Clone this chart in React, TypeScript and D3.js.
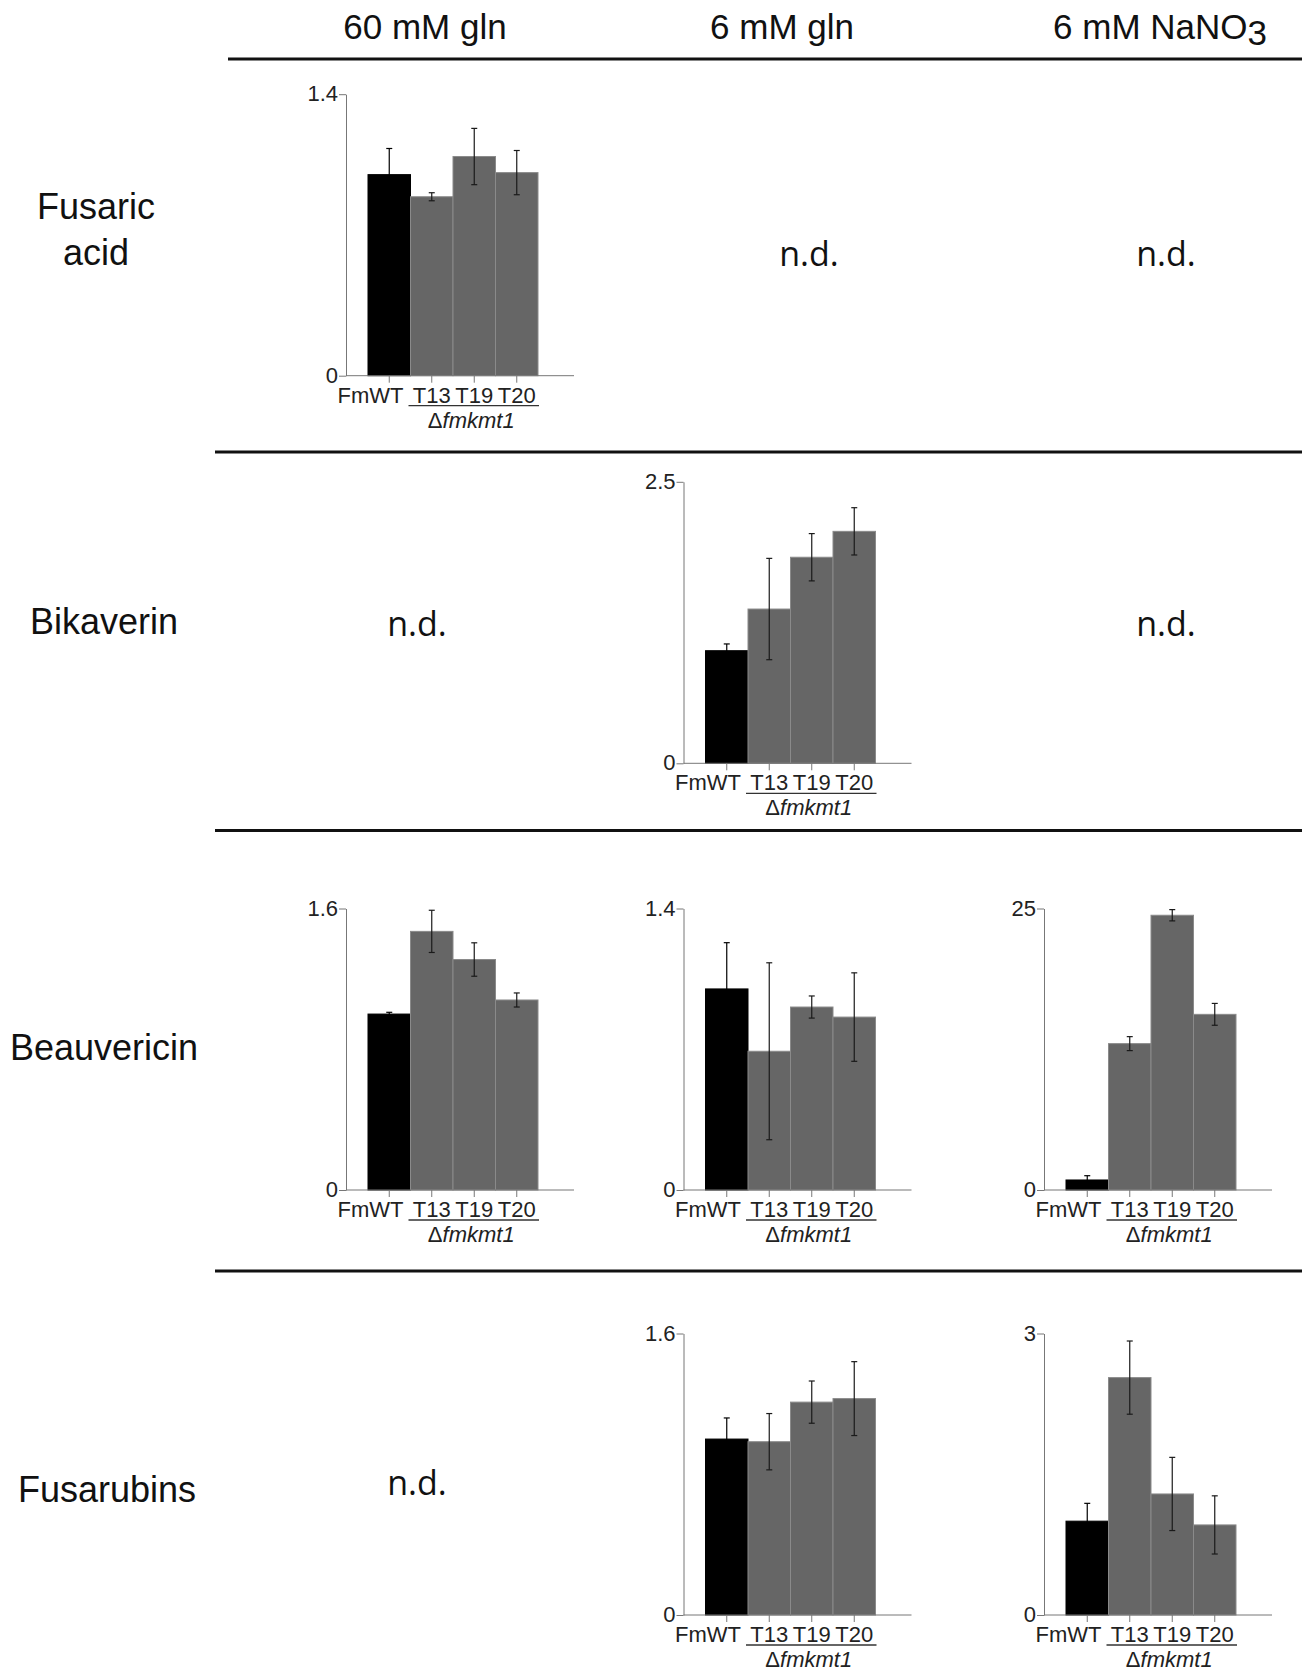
import { useEffect, useRef } from 'react'
import * as d3 from 'd3'

const strains = ['FmWT', 'T13', 'T19', 'T20']
const mutantLabel = 'fmkmt1'
const conditions = ['60 mM gln', '6 mM gln', '6 mM NaNO']
const compounds = ['Fusaric acid', 'Bikaverin', 'Beauvericin', 'Fusarubins']

// relative amounts (FmWT = 1) and error bars
const fusaricAcid60gln = [1.0, 0.89, 1.09, 1.01]
const fusaricAcid60glnErr = [0.13, 0.02, 0.14, 0.11]
const bikaverin6gln = [1.0, 1.37, 1.83, 2.06]
const bikaverin6glnErr = [0.06, 0.45, 0.21, 0.21]
const beauvericin60gln = [1.0, 1.47, 1.31, 1.08]
const beauvericin60glnErr = [0.01, 0.12, 0.095, 0.04]
const beauvericin6gln = [1.0, 0.69, 0.91, 0.86]
const beauvericin6glnErr = [0.23, 0.44, 0.055, 0.22]
const beauvericinNO3 = [0.89, 13.0, 24.4, 15.6]
const beauvericinNO3Err = [0.38, 0.62, 0.5, 0.97]
const fusarubins6gln = [1.0, 0.985, 1.21, 1.23]
const fusarubins6glnErr = [0.12, 0.16, 0.12, 0.21]
const fusarubinsNO3 = [1.0, 2.53, 1.29, 0.96]
const fusarubinsNO3Err = [0.19, 0.39, 0.39, 0.31]

// [row, col, values, errors, axis max]; null = n.d.
const panels = [
  [0, 0, fusaricAcid60gln, fusaricAcid60glnErr, 1.4],
  [0, 1, null, null, 0],
  [0, 2, null, null, 0],
  [1, 0, null, null, 0],
  [1, 1, bikaverin6gln, bikaverin6glnErr, 2.5],
  [1, 2, null, null, 0],
  [2, 0, beauvericin60gln, beauvericin60glnErr, 1.6],
  [2, 1, beauvericin6gln, beauvericin6glnErr, 1.4],
  [2, 2, beauvericinNO3, beauvericinNO3Err, 25],
  [3, 0, null, null, 0],
  [3, 1, fusarubins6gln, fusarubins6glnErr, 1.6],
  [3, 2, fusarubinsNO3, fusarubinsNO3Err, 3],
]

const FONT = 'Liberation Sans, Arial, sans-serif'

export default function App() {
  const svgRef = useRef(null)

  useEffect(() => {
    const svg = d3.select(svgRef.current)
    svg.selectAll('*').remove()

    const W = 1302
    const H = 1680
    svg.attr('width', W).attr('height', H).attr('viewBox', `0 0 ${W} ${H}`)

    const colAxisX = [346, 683.5, 1044]
    const rowZeroY = [375.7, 763.3, 1190, 1615]
    const colHeadX = [425, 782, 1160]
    const ndX = [417, 809, 1166]
    const ndY = [266, 636, 1047, 1495]
    const plotH = 281.5
    const axisW = 228

    // column headers
    conditions.forEach((c, i) => {
      const t = svg
        .append('text')
        .attr('x', colHeadX[i])
        .attr('y', 39)
        .attr('text-anchor', 'middle')
        .style('font-family', FONT)
        .style('font-size', '35px')
        .style('fill', '#111')
        .text(c)
      if (i === 2) t.append('tspan').attr('dy', 6).text('3')
    })

    // rules
    svg.append('line').attr('x1', 228).attr('x2', W).attr('y1', 59).attr('y2', 59)
      .attr('stroke', '#111').attr('stroke-width', 3)
    ;[452, 830.5, 1271].forEach((y) => {
      svg.append('line').attr('x1', 215).attr('x2', W).attr('y1', y).attr('y2', y)
        .attr('stroke', '#111').attr('stroke-width', 3)
    })

    // row labels
    const labelX = [96, 104, 104, 107]
    const labelY = [219, 634, 1060, 1502]
    compounds.forEach((c, i) => {
      const lines = i === 0 ? c.split(' ') : [c]
      lines.forEach((ln, j) => {
        svg.append('text')
          .attr('x', labelX[i])
          .attr('y', labelY[i] + j * 46)
          .attr('text-anchor', 'middle')
          .style('font-family', FONT)
          .style('font-size', '36px')
          .style('fill', '#111')
          .text(ln)
      })
    })

    panels.forEach(([row, col, values, errors, max]) => {
      if (!values) {
        svg.append('text')
          .attr('x', ndX[col])
          .attr('y', ndY[row])
          .attr('text-anchor', 'middle')
          .style('font-family', 'Open Sans, sans-serif')
          .style('font-size', '34px')
          .style('fill', '#111')
          .text('n.d.')
        return
      }

      const g = svg.append('g')
        .attr('transform', `translate(${colAxisX[col]},${rowZeroY[row] - plotH})`)

      const x = d3.scaleBand().domain(strains).range([22, 192]).padding(0)
      const y = d3.scaleLinear().domain([0, max]).range([plotH, 0])

      // bars
      g.selectAll('rect.bar')
        .data(values)
        .enter()
        .append('rect')
        .attr('class', 'bar')
        .attr('x', (d, i) => x(strains[i]))
        .attr('y', (d) => y(d))
        .attr('width', x.bandwidth())
        .attr('height', (d) => plotH - y(d))
        .attr('fill', (d, i) => (i === 0 ? '#000' : '#666'))
        .attr('stroke', (d, i) => (i === 0 ? '#000' : '#8a8a8a'))
        .attr('stroke-width', 1)

      // error bars
      const eb = g.selectAll('g.err')
        .data(values)
        .enter()
        .append('g')
        .attr('class', 'err')
        .attr('stroke', (d, i) => (i === 0 ? '#000' : '#1a1a1a'))
        .attr('stroke-width', 1.2)
      const cx = (i) => x(strains[i]) + x.bandwidth() / 2
      eb.append('line')
        .attr('x1', (d, i) => cx(i)).attr('x2', (d, i) => cx(i))
        .attr('y1', (d, i) => y(d + errors[i])).attr('y2', (d, i) => y(Math.max(0, d - errors[i])))
      eb.append('line')
        .attr('x1', (d, i) => cx(i) - 3).attr('x2', (d, i) => cx(i) + 3)
        .attr('y1', (d, i) => y(d + errors[i])).attr('y2', (d, i) => y(d + errors[i]))
      eb.append('line')
        .attr('x1', (d, i) => cx(i) - 3).attr('x2', (d, i) => cx(i) + 3)
        .attr('y1', (d, i) => y(Math.max(0, d - errors[i]))).attr('y2', (d, i) => y(Math.max(0, d - errors[i])))

      // y axis
      const ya = g.append('g')
        .call(d3.axisLeft(y).tickValues([0, max]).tickSize(7).tickSizeOuter(0).tickFormat((d) => String(d)))
      ya.select('.domain').attr('stroke', '#777')
      ya.selectAll('line').attr('stroke', '#777')
      ya.selectAll('text')
        .attr('x', -8)
        .attr('dy', '0.3em')
        .style('font-family', FONT)
        .style('font-size', '22px')
        .style('fill', '#222')

      // x axis
      g.append('line').attr('x1', 0).attr('x2', axisW).attr('y1', plotH).attr('y2', plotH)
        .attr('stroke', '#777').attr('stroke-width', 1)
      const xa = g.append('g')
        .attr('transform', `translate(0,${plotH})`)
        .call(d3.axisBottom(x).tickSize(7).tickSizeOuter(0).tickFormat(() => ''))
      xa.select('.domain').remove()
      xa.selectAll('line').attr('stroke', '#777')

      // category labels
      const labY = plotH + 27
      strains.forEach((s, i) => {
        g.append('text')
          .attr('x', i === 0 ? x(strains[1]) - 7 : cx(i))
          .attr('y', labY)
          .attr('text-anchor', i === 0 ? 'end' : 'middle')
          .style('font-family', FONT)
          .style('font-size', '22px')
          .style('fill', '#222')
          .text(s)
      })
      g.append('line')
        .attr('x1', x(strains[1]) - 2)
        .attr('x2', x(strains[3]) + x.bandwidth() + 1)
        .attr('y1', labY + 3).attr('y2', labY + 3)
        .attr('stroke', '#333').attr('stroke-width', 1.3)
      const mid = (x(strains[1]) + x(strains[3]) + x.bandwidth()) / 2
      const dl = g.append('text')
        .attr('x', mid - 3)
        .attr('y', labY + 25)
        .attr('text-anchor', 'middle')
        .style('font-family', FONT)
        .style('font-size', '22px')
        .style('fill', '#222')
      dl.append('tspan').text('\u0394')
      dl.append('tspan').style('font-style', 'italic').text(mutantLabel)
    })
  }, [])

  return <svg ref={svgRef} style={{ position: 'absolute', left: 0, top: 0, background: '#fff' }} />
}
